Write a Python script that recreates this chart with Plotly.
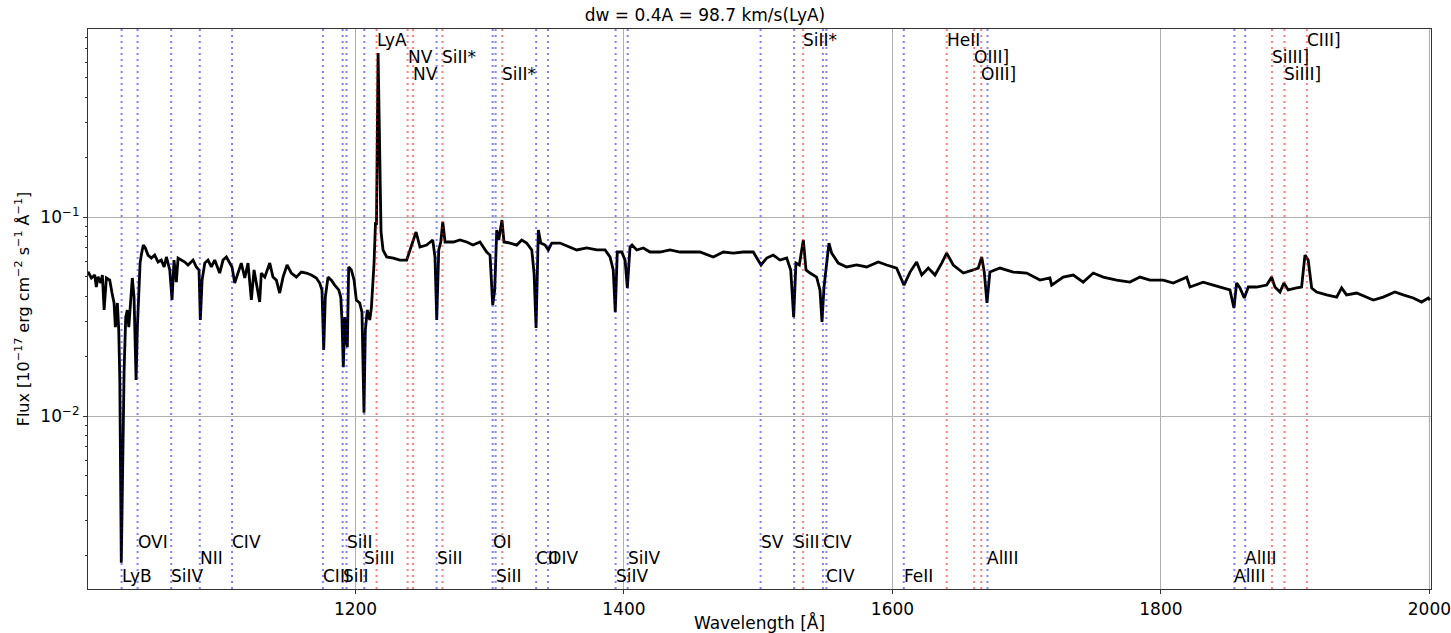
import plotly.graph_objects as go

# Rest-frame wavelength grid [Angstrom] and flux [1e-17 erg/cm2/s/A]
wavelength = [
    1000.7, 1003.2, 1005.7, 1006.9, 1008.2, 1010.2, 1011.4, 1012.7, 1014.4, 1016.9,
    1018.6, 1020.1, 1021.1, 1022.6, 1023.6, 1024.4, 1025.5, 1026.6, 1027.6, 1028.8,
    1030.0, 1031.1, 1032.5, 1033.7, 1035.0, 1036.5, 1037.5, 1038.5, 1039.5, 1040.4,
    1041.9, 1043.4, 1045.4, 1047.9, 1050.4, 1052.9, 1055.3, 1057.4, 1059.1, 1061.6,
    1063.3, 1064.8, 1066.5, 1067.8, 1072.8, 1075.2, 1079.0, 1081.4, 1083.4, 1084.4,
    1085.7, 1087.7, 1090.1, 1092.6, 1095.1, 1098.8, 1101.3, 1103.8, 1106.3, 1108.0,
    1110.0, 1112.5, 1114.9, 1117.5, 1119.9, 1122.4, 1124.4, 1126.1, 1128.6, 1129.8,
    1132.4, 1136.1, 1138.5, 1141.0, 1143.5, 1146.0, 1149.0, 1152.2, 1155.9, 1159.6,
    1163.4, 1167.1, 1170.8, 1173.3, 1175.0, 1176.3, 1177.5, 1179.5, 1182.0, 1184.5,
    1187.5, 1189.0, 1189.9, 1190.9, 1192.0, 1193.1, 1193.9, 1194.9, 1196.9, 1198.9,
    1200.6, 1203.1, 1204.8, 1206.3, 1207.3, 1208.8, 1210.6, 1211.8, 1213.8, 1214.9,
    1215.6, 1216.8, 1217.9, 1219.0, 1220.5, 1223.2, 1228.2, 1233.1, 1238.1, 1241.9,
    1245.1, 1248.0, 1253.0, 1257.5, 1259.2, 1260.5, 1262.0, 1263.5, 1265.0, 1266.7,
    1272.9, 1277.8, 1282.8, 1287.5, 1292.7, 1297.7, 1300.2, 1302.2, 1303.7, 1305.2,
    1306.7, 1309.1, 1310.6, 1315.1, 1320.1, 1323.8, 1327.5, 1331.3, 1333.0, 1334.5,
    1336.2, 1338.0, 1341.2, 1343.6, 1346.2, 1352.3, 1359.8, 1364.8, 1372.2, 1379.7,
    1385.9, 1389.6, 1392.0, 1393.5, 1395.0, 1398.3, 1400.8, 1402.5, 1404.5, 1406.0,
    1409.5, 1414.4, 1419.4, 1426.8, 1434.3, 1441.7, 1449.2, 1456.6, 1466.5, 1474.0,
    1481.4, 1488.9, 1496.3, 1500.0, 1502.1, 1506.3, 1511.2, 1516.2, 1521.2, 1524.2,
    1526.4, 1528.1, 1530.6, 1533.6, 1535.6, 1538.6, 1543.5, 1546.0, 1547.5, 1549.0,
    1551.0, 1552.7, 1554.7, 1559.6, 1565.9, 1573.3, 1580.8, 1589.4, 1595.7, 1603.1,
    1608.6, 1613.1, 1618.0, 1621.8, 1626.7, 1631.7, 1636.7, 1640.4, 1645.3, 1652.8,
    1660.2, 1663.9, 1666.5, 1668.4, 1670.4, 1672.6, 1680.1, 1690.0, 1700.0, 1709.9,
    1717.3, 1718.6, 1727.2, 1734.7, 1742.1, 1749.6, 1757.0, 1767.0, 1776.9, 1784.4,
    1791.8, 1801.7, 1809.2, 1819.2, 1821.6, 1831.5, 1839.0, 1846.4, 1851.4, 1854.4,
    1856.4, 1858.9, 1862.1, 1865.1, 1871.3, 1878.8, 1882.5, 1884.9, 1888.7, 1891.6,
    1894.8, 1901.1, 1904.8, 1907.3, 1909.7, 1912.3, 1916.0, 1923.4, 1930.9, 1934.6,
    1938.3, 1945.8, 1953.2, 1958.2, 1965.6, 1974.3, 1980.5, 1988.0, 1994.2, 1999.1,
    2000.4,
]

flux = [
    0.0531, 0.0494, 0.0511, 0.0445, 0.0501, 0.0466, 0.0511, 0.0341, 0.0494, 0.0482,
    0.0415, 0.0370, 0.0280, 0.0370, 0.0271, 0.0152, 0.00183, 0.0085, 0.0170, 0.0314,
    0.0341, 0.0280, 0.0370, 0.0494, 0.0396, 0.0152, 0.0280, 0.0440, 0.0587, 0.0644,
    0.0723, 0.0699, 0.0644, 0.0622, 0.0644, 0.0594, 0.0608, 0.0561, 0.0630, 0.0542,
    0.0383, 0.0608, 0.0471, 0.0622, 0.0594, 0.0574, 0.0608, 0.0561, 0.0542, 0.0304,
    0.0482, 0.0587, 0.0608, 0.0561, 0.0608, 0.0523, 0.0608, 0.0630, 0.0587, 0.0561,
    0.0466, 0.0523, 0.0587, 0.0494, 0.0587, 0.0383, 0.0542, 0.0466, 0.0374, 0.0523,
    0.0499, 0.0587, 0.0499, 0.0482, 0.0415, 0.0499, 0.0574, 0.0523, 0.0499, 0.0529,
    0.0523, 0.0511, 0.0494, 0.0466, 0.0430, 0.0215, 0.0396, 0.0499, 0.0482, 0.0455,
    0.0430, 0.0396, 0.0304, 0.0176, 0.0314, 0.0241, 0.0222, 0.0561, 0.0542, 0.0482,
    0.0383, 0.0370, 0.0333, 0.0104, 0.0271, 0.0341, 0.0304, 0.0349, 0.0587, 0.0944,
    0.0912, 0.667, 0.217, 0.0841, 0.0683, 0.0630, 0.0622, 0.0608, 0.0608, 0.0723,
    0.0841, 0.0707, 0.0723, 0.0767, 0.0630, 0.0304, 0.0683, 0.0749, 0.0944, 0.0749,
    0.0749, 0.0767, 0.0749, 0.0723, 0.0749, 0.0667, 0.0644, 0.0361, 0.0430, 0.0860,
    0.0767, 0.0966, 0.0749, 0.0740, 0.0723, 0.0767, 0.0740, 0.0683, 0.0523, 0.0277,
    0.0860, 0.0740, 0.0723, 0.0683, 0.0740, 0.0740, 0.0707, 0.0683, 0.0699, 0.0683,
    0.0683, 0.0630, 0.0542, 0.0333, 0.0667, 0.0667, 0.0608, 0.0440, 0.0707, 0.0723,
    0.0683, 0.0699, 0.0667, 0.0667, 0.0683, 0.0667, 0.0667, 0.0667, 0.0630, 0.0667,
    0.0659, 0.0667, 0.0667, 0.0608, 0.0574, 0.0622, 0.0644, 0.0608, 0.0622, 0.0542,
    0.0314, 0.0587, 0.0574, 0.0767, 0.0542, 0.0523, 0.0499, 0.0430, 0.0297, 0.0445,
    0.0594, 0.0740, 0.0659, 0.0587, 0.0561, 0.0574, 0.0561, 0.0594, 0.0574, 0.0554,
    0.0455, 0.0529, 0.0594, 0.0511, 0.0554, 0.0511, 0.0587, 0.0659, 0.0574, 0.0523,
    0.0542, 0.0554, 0.0630, 0.0529, 0.0370, 0.0529, 0.0554, 0.0529, 0.0523, 0.0482,
    0.0494, 0.0455, 0.0499, 0.0511, 0.0471, 0.0523, 0.0499, 0.0482, 0.0471, 0.0499,
    0.0482, 0.0482, 0.0466, 0.0499, 0.0445, 0.0471, 0.0455, 0.0440, 0.0430, 0.0349,
    0.0466, 0.0440, 0.0392, 0.0445, 0.0445, 0.0455, 0.0499, 0.0445, 0.0420, 0.0466,
    0.0430, 0.0440, 0.0445, 0.0644, 0.0608, 0.0440, 0.0420, 0.0406, 0.0396, 0.0440,
    0.0406, 0.0415, 0.0396, 0.0383, 0.0396, 0.0420, 0.0406, 0.0392, 0.0374, 0.0392,
    0.0383,
]

# Interstellar absorption features (blue) and nebular / emission features (red)
absorption_names = [
    "LyB", "OVI", "SiIV", "NII", "CIV", "CIII", "SiII", "SiII", "SiIII", "SiII",
    "OI", "SiII", "CII", "OIV", "SiIV", "SiIV", "SV", "SiII", "CIV", "CIV",
    "FeII", "AlIII", "AlIII", "AlIII",
]
absorption_waves = [
    1025.72, 1037.62, 1062.66, 1083.99, 1108.0, 1175.71, 1190.42, 1193.29, 1206.50, 1260.42,
    1302.17, 1304.37, 1334.53, 1343.35, 1393.76, 1402.77, 1501.76, 1526.71, 1548.20, 1550.78,
    1608.45, 1670.79, 1854.72, 1862.79,
]
emission_names = [
    "LyA", "NV", "NV", "SiII*", "SiII*", "SiII*", "HeII", "OIII]", "OIII]",
    "SiIII]", "SiIII]", "CIII]",
]
emission_waves = [
    1215.67, 1238.82, 1242.80, 1264.74, 1309.28, 1533.43, 1640.42, 1660.81, 1666.15,
    1882.71, 1892.03, 1908.73,
]

# Label rows so neighbouring names do not sit on top of each other
absorption_rows = [2, 0, 2, 1, 0, 2, 2, 0, 1, 1, 0, 2, 1, 1, 2, 1, 0, 0, 0, 2, 2, 1, 2, 1]
emission_rows = [0, 1, 2, 1, 2, 0, 0, 1, 2, 1, 2, 0]
bottom_row_y = [0.0839, 0.0545, 0.0241]
top_row_y = [0.9804, 0.9500, 0.9196]

x_ticks = [1200, 1400, 1600, 1800, 2000]

FONT = "DejaVu Sans"
BLUE = "rgba(0,0,255,0.5)"
RED = "rgba(255,0,0,0.5)"
GRID = "#b0b0b0"

fig = go.Figure()
fig.add_trace(go.Scatter(
    x=wavelength, y=flux, mode="lines",
    line=dict(color="black", width=2.8),
    showlegend=False, hoverinfo="skip",
))

shapes = []
annotations = []
# plotly drops the grid line that sits right next to the frame; draw it explicitly
shapes.append(dict(type="line", xref="x", yref="paper", x0=x_ticks[-1], x1=x_ticks[-1],
                   y0=0, y1=1, line=dict(color=GRID, width=1), layer="below"))
for name, w, row in zip(absorption_names, absorption_waves, absorption_rows):
    shapes.append(dict(type="line", xref="x", yref="paper", x0=w, x1=w, y0=0, y1=1,
                       line=dict(color=BLUE, width=2, dash="2px,4px"), layer="above"))
    annotations.append(dict(x=w, y=bottom_row_y[row], xref="x", yref="paper", text=name,
                            showarrow=False, xanchor="left", yanchor="middle", xshift=-2,
                            font=dict(family=FONT, size=17, color="black")))
for name, w, row in zip(emission_names, emission_waves, emission_rows):
    shapes.append(dict(type="line", xref="x", yref="paper", x0=w, x1=w, y0=0, y1=1,
                       line=dict(color=RED, width=2, dash="2px,4px"), layer="above"))
    annotations.append(dict(x=w, y=top_row_y[row], xref="x", yref="paper", text=name,
                            showarrow=False, xanchor="left", yanchor="middle", xshift=-2,
                            font=dict(family=FONT, size=17, color="black")))

minor_vals = [m * 10.0 ** e for e in (-3, -2, -1) for m in range(2, 10)]

fig.update_layout(
    width=1451, height=633,
    margin=dict(l=88, r=20, t=29, b=44, autoexpand=False),
    paper_bgcolor="white", plot_bgcolor="white",
    font=dict(family=FONT, size=16, color="black"),
    title=dict(text="dw = 0.4A = 98.7 km/s(LyA)", xref="paper", x=0.4594, xanchor="center",
               yref="container", y=0.976, yanchor="middle",
               font=dict(family=FONT, size=17, color="black")),
    shapes=shapes,
    annotations=annotations,
    showlegend=False,
)
fig.update_xaxes(
    range=[1000.7, 2001.2], tickvals=x_ticks,
    showgrid=True, gridcolor=GRID, gridwidth=1,
    showline=True, linecolor="#333333", linewidth=1.2, mirror=True,
    ticks="outside", ticklen=4, tickcolor="#333333", automargin=False,
    ticklabeloverflow="allow",
    tickfont=dict(family=FONT, size=17), zeroline=False,
    title=dict(text="Wavelength [Å]", font=dict(family=FONT, size=17), standoff=4),
)
fig.update_yaxes(
    type="log", range=[-2.869, -0.0553],
    tickvals=[0.01, 0.1], ticktext=["10<sup>−2</sup>", "10<sup>−1</sup>"],
    showgrid=True, gridcolor=GRID, gridwidth=1,
    showline=True, linecolor="#333333", linewidth=1.2, mirror=True,
    ticks="outside", ticklen=4, tickcolor="#333333", automargin=False,
    tickfont=dict(family=FONT, size=17), zeroline=False,
    minor=dict(tickvals=minor_vals, ticks="outside", ticklen=2, tickcolor="#333333", showgrid=False),
    title=dict(text="Flux [10<sup>−17</sup> erg cm<sup>−2</sup> s<sup>−1</sup> Å<sup>−1</sup>]",
               font=dict(family=FONT, size=16), standoff=6),
)

fig.write_html("out.html")
